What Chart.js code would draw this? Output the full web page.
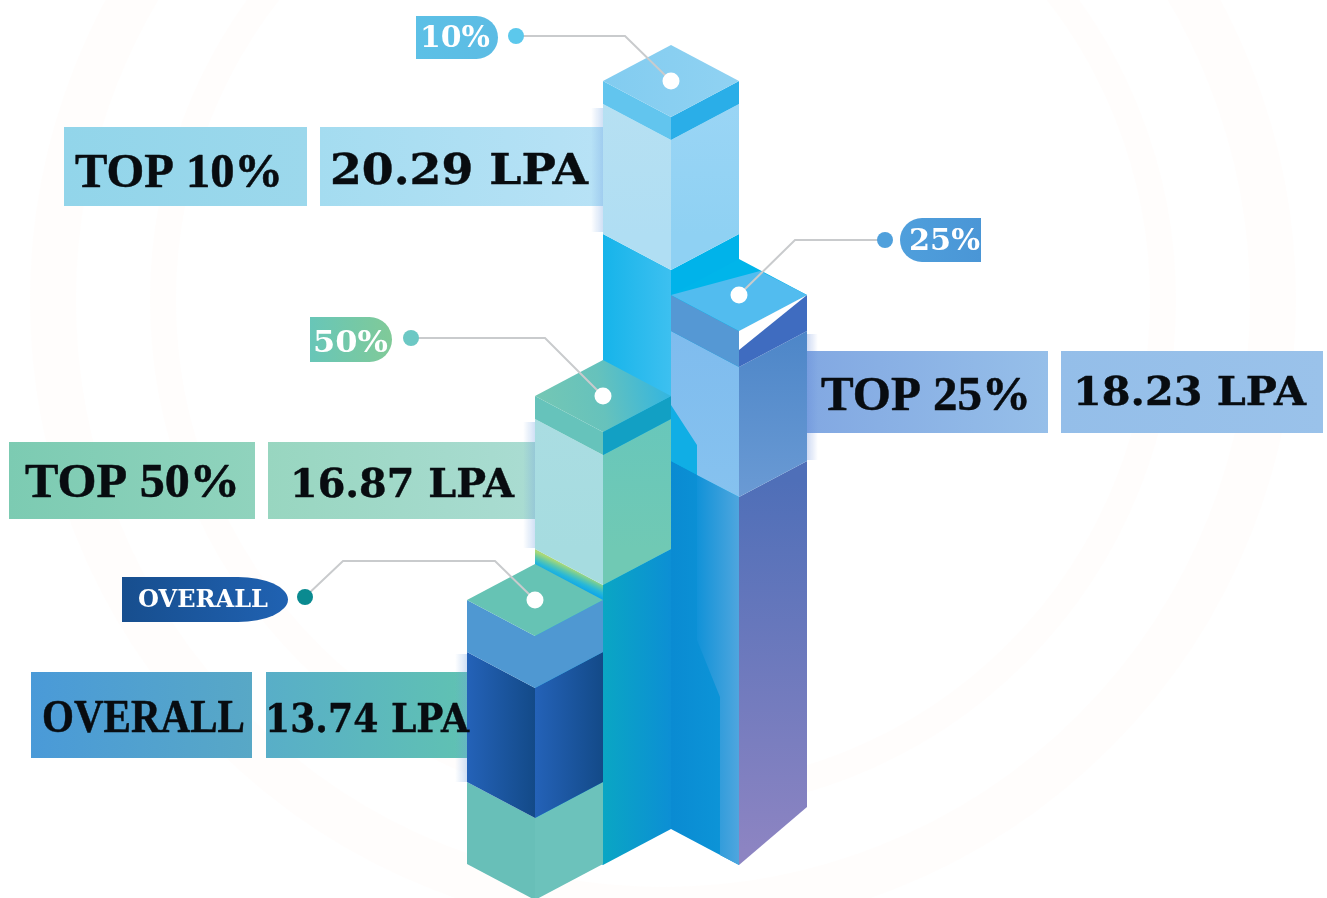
<!DOCTYPE html>
<html>
<head>
<meta charset="utf-8">
<style>
html,body{margin:0;padding:0;background:#fff;overflow:hidden}
canvas{display:block}
</style>
<script src="https://cdn.jsdelivr.net/npm/chart.js@4"></script>
</head>
<body>
<canvas id="c" width="1327" height="898"></canvas>
<script>
// ---- data ----
const categories = ['OVERALL', 'TOP 50%', 'TOP 10%', 'TOP 25%'];
const tagLabels = ['OVERALL', '50%', '10%', '25%'];
const lpaValues = [13.74, 16.87, 20.29, 18.23];
// section heights of every column, in chart units
const groundGap = [3.4, 6.9, 10.6, 6.9];
const lowerSection = [8.2, 28.0, 55.8, 36.8];
const panelSection = [13.0, 13.0, 13.0, 13.0];
const capSection = [5.2, 2.3, 2.3, 3.6];

// ---- layout of the annotation boxes ----
const SERIF = '"Liberation Serif"';
const SLAB = '"DejaVu Serif"';
const layout = [
  { // OVERALL
    title:{box:[31,672,252,758],c:['#4a9ad8','#58a8c6'],x:[42,245],y:732,size:46},
    value:{box:[266,672,470,758],c:['#58aec8','#60c2b2'],x:[265,469],y:732,size:40},
    tag:{box:[122,577,288,622],c:['#174e8e','#2062b2'],x:[138,268],y:607,size:24,round:'ellipse'},
    dot:[305,597,'#0a8a90'],
    path:[[305,597],[343,561],[495,561]],
    fade:[455,654,12,128]
  },
  { // TOP 50%
    title:{box:[9,442,255,519],c:['#7ccbb2','#90d3bd'],x:[25,240],y:497,size:48},
    value:{box:[268,442,536,519],c:['#98d6c0','#aadcd2'],x:[290,514],y:497,size:40},
    tag:{box:[310,317,392,362],c:['#68c6b8','#80ca98'],x:[313,388],y:352,size:30,round:'right'},
    dot:[411,338,'#6cc8c4'],
    path:[[411,338],[545,338]],
    fade:[523,422,12,126]
  },
  { // TOP 10%
    title:{box:[64,127,307,206],c:['#92d5ea','#9cd8ec'],x:[75,283],y:187,size:48},
    value:{box:[320,127,604,206],c:['#a4dcf0','#b8e2f6'],x:[330,588],y:184,size:42},
    tag:{box:[416,16,498,59],c:['#5cc0e6','#5cbce4'],x:[420,490],y:47,size:30,round:'right'},
    dot:[516,36,'#5cc8ec'],
    path:[[516,36],[625,36]],
    fade:[591,108,12,124]
  },
  { // TOP 25%
    title:{box:[806,351,1048,433],c:['#82a8e2','#96bfe9'],x:[821,1031],y:410,size:48},
    value:{box:[1061,351,1323,433],c:['#94bee9','#9ac2ea'],x:[1073,1306],y:405,size:40},
    tag:{box:[900,218,981,262],c:['#4f9fdc','#4a96d6'],x:[909,980],y:250,size:30,round:'left'},
    dot:[885,240,'#4fa0dc'],
    path:[[885,240],[795,240]],
    fade:[806,334,12,126]
  }
];
const drawOrder = [2, 3, 1, 0];
const HALF_DEPTH_RATIO = 36 / 68;

function poly(ctx, pts, fill) {
  ctx.beginPath();
  pts.forEach((p, i) => i ? ctx.lineTo(p[0], p[1]) : ctx.moveTo(p[0], p[1]));
  ctx.closePath();
  ctx.fillStyle = fill;
  ctx.fill();
}
function grad(ctx, x0, y0, x1, y1, stops) {
  const g = ctx.createLinearGradient(x0, y0, x1, y1);
  stops.forEach((s, i) => g.addColorStop(i / (stops.length - 1), s));
  return g;
}
function fitText(ctx, text, font, x0, x1, base, color, bold) {
  ctx.save();
  ctx.font = font;
  ctx.textAlign = 'left';
  ctx.textBaseline = 'alphabetic';
  const w = ctx.measureText(text).width;
  ctx.translate(x0, base);
  ctx.scale((x1 - x0) / w, 1);
  ctx.fillStyle = color;
  ctx.fillText(text, 0, 0);
  if (bold) { ctx.strokeStyle = color; ctx.lineWidth = bold; ctx.lineJoin = 'round'; ctx.strokeText(text, 0, 0); }
  ctx.restore();
}
function tagShape(ctx, t) {
  const [x0, y0, x1, y1] = t.box;
  const r = (y1 - y0) / 2, my = (y0 + y1) / 2;
  ctx.beginPath();
  if (t.round === 'right') {
    ctx.moveTo(x0, y0); ctx.lineTo(x1 - r, y0); ctx.arc(x1 - r, my, r, -Math.PI / 2, Math.PI / 2); ctx.lineTo(x0, y1);
  } else if (t.round === 'left') {
    ctx.moveTo(x1, y0); ctx.lineTo(x0 + r, y0); ctx.arc(x0 + r, my, r, -Math.PI / 2, Math.PI / 2, true); ctx.lineTo(x1, y1);
  } else {
    ctx.moveTo(x0, y0); ctx.lineTo(x1 - 50, y0); ctx.ellipse(x1 - 50, my, 50, r, 0, -Math.PI / 2, Math.PI / 2); ctx.lineTo(x0, y1);
  }
  ctx.closePath();
  ctx.fillStyle = grad(ctx, x0, 0, x1, 0, t.c);
  ctx.fill();
}

const isoPlugin = {
  id: 'isoColumns',
  beforeDatasetsDraw(chart) {
    const ctx = chart.ctx;
    ctx.save();
    // very faint watermark behind the chart
    ctx.strokeStyle = 'rgba(255,240,230,0.12)';
    ctx.lineWidth = 46;
    ctx.beginPath(); ctx.arc(663, 300, 610, 0, Math.PI * 2); ctx.stroke();
    ctx.lineWidth = 26;
    ctx.beginPath(); ctx.arc(663, 300, 500, 0, Math.PI * 2); ctx.stroke();
    // label boxes and the soft shade next to each column
    layout.forEach(l => {
      [l.title, l.value].forEach(b => {
        const [x0, y0, x1, y1] = b.box;
        ctx.fillStyle = grad(ctx, x0, 0, x1, 0, b.c);
        ctx.fillRect(x0, y0, x1 - x0, y1 - y0);
      });
      const [fx, fy, fw, fh] = l.fade;
      const leftSide = fx < 700;
      ctx.fillStyle = leftSide
        ? grad(ctx, fx, 0, fx + fw, 0, ['rgba(110,160,225,0)', 'rgba(110,160,225,0.32)'])
        : grad(ctx, fx, 0, fx + fw, 0, ['rgba(90,130,215,0.32)', 'rgba(90,130,215,0)']);
      ctx.fillRect(fx, fy, fw, fh);
    });
    ctx.restore();
  },
  afterDatasetsDraw(chart) {
    const ctx = chart.ctx;
    const lower = chart.getDatasetMeta(1).data;
    const panel = chart.getDatasetMeta(2).data;
    const cap = chart.getDatasetMeta(3).data;
    ctx.save();
    drawOrder.forEach(i => {
      const cx = cap[i].x, hw = cap[i].width / 2, d = hw * HALF_DEPTH_RATIO;
      const L = cx - hw, R = cx + hw;
      const t = cap[i].y, c = cap[i].base, p = panel[i].base, b = lower[i].base;
      const leftF = (a, z) => [[L, a], [cx, a + d], [cx, z + d], [L, z]];
      const rightF = (a, z) => [[cx, a + d], [R, a], [R, z], [cx, z + d]];
      const topF = [[L, t], [cx, t - d], [R, t], [cx, t + d]];
      const H = (c0, c1, x0 = L, x1 = R) => grad(ctx, x0, 0, x1, 0, [c0, c1]);
      const V = (c0, c1, a, z) => grad(ctx, 0, a, 0, z, [c0, c1]);
      if (i === 2) { // TOP 10%
        poly(ctx, leftF(p, b), H('#16b4ea', '#3dc0f0', L, cx));
        poly(ctx, rightF(p, b), '#00b3ea');
        poly(ctx, leftF(c, p), V('#b6e0f2', '#b0def3', c, p));
        poly(ctx, rightF(c, p), V('#9ad5f5', '#8fd1f3', c, p));
        poly(ctx, leftF(t, c), '#62c5ee');
        poly(ctx, rightF(t, c), '#2aaee8');
        poly(ctx, topF, grad(ctx, L, t, R, t, ['#82ccf0', '#90d2f2']));
      } else if (i === 3) { // TOP 25%
        poly(ctx, leftF(p, b), H('#0a8bd2', '#0d97d9', L, cx));
        poly(ctx, [[cx - 42, p + 14], [cx, p + d], [cx, b + d], [cx - 19, b + 26], [cx - 19, p + 236], [cx - 42, p + 179]],
          H('#1192d8', '#4fa6de', cx - 42, cx));
        poly(ctx, [[cx, p + d], [R, p], [R, b - 22], [cx, b + d]], V('#4f6fb8', '#8c84c2', p + 20, b + 20));
        poly(ctx, leftF(c, p), '#10aee5');
        poly(ctx, [[L, c], [cx, c + d], [cx, p + d], [cx - 42, p + 14], [cx - 42, c + 114], [L, c + 74]],
          V('#7fbcee', '#86c2ef', c, p + d));
        poly(ctx, rightF(c, p), V('#4d86c8', '#6a9ad4', c, p + d));
        poly(ctx, leftF(t, c), '#5598d4');
        poly(ctx, rightF(t, c), '#3f6cc0');
        poly(ctx, topF, '#00b5ea');
        poly(ctx, [[L, t], [cx + 21, t - 24], [R, t], [cx, t + d]], '#52bcef');
        poly(ctx, [[R, t], [cx, t + d], [cx, t + d + 19]], '#ffffff');
      } else if (i === 1) { // TOP 50%
        poly(ctx, leftF(p, b), grad(ctx, cx - 34, p + 18, cx - 40, p + 31, ['#a8d878', '#60c8a8', '#28b8d8', '#10a8e8']));
        poly(ctx, rightF(p, b), H('#0aa6c4', '#0c8fd4', cx, R));
        poly(ctx, leftF(c, p), V('#aadde2', '#a6dce0', c, p));
        poly(ctx, rightF(c, p), V('#68c7bb', '#70c9b4', c, p));
        poly(ctx, leftF(t, c), '#66c3bb');
        poly(ctx, rightF(t, c), '#12a0c4');
        poly(ctx, topF, grad(ctx, L, t, R - 8, t - 24, ['#74c7b4', '#66c2bc', '#36b6de']));
      } else { // OVERALL
        poly(ctx, leftF(p, b), '#68bfb8');
        poly(ctx, rightF(p, b), '#6cc2bb');
        poly(ctx, leftF(c, p), H('#2462b8', '#134a88', L, cx));
        poly(ctx, rightF(c, p), H('#2462b8', '#134a88', cx, R));
        poly(ctx, leftF(t, c), '#4f98d2');
        poly(ctx, rightF(t, c), '#4f98d2');
        poly(ctx, topF, '#66c3b4');
      }
    });
    // callouts
    layout.forEach((l, i) => {
      const cx = cap[i].x, cy = cap[i].y;
      ctx.beginPath();
      l.path.forEach((p, k) => k ? ctx.lineTo(p[0], p[1]) : ctx.moveTo(p[0], p[1]));
      ctx.lineTo(cx, cy);
      ctx.strokeStyle = '#c9cbcd';
      ctx.lineWidth = 2;
      ctx.stroke();
      ctx.beginPath(); ctx.arc(l.dot[0], l.dot[1], 8, 0, Math.PI * 2); ctx.fillStyle = l.dot[2]; ctx.fill();
      ctx.beginPath(); ctx.arc(cx, cy, 8.5, 0, Math.PI * 2); ctx.fillStyle = '#ffffff'; ctx.fill();
      tagShape(ctx, l.tag);
      fitText(ctx, tagLabels[i], `bold ${l.tag.size}px ${SLAB}`, l.tag.x[0], l.tag.x[1], l.tag.y, '#ffffff');
      fitText(ctx, categories[i], `bold ${l.title.size}px ${SERIF}`, l.title.x[0], l.title.x[1], l.title.y, '#080c10', 0.5);
      fitText(ctx, lpaValues[i].toFixed(2) + ' LPA', `bold ${l.value.size}px ${SLAB}`, l.value.x[0], l.value.x[1], l.value.y, '#080c10', 0.4);
    });
    ctx.restore();
  }
};

const hidden = 'rgba(0,0,0,0)';
new Chart(document.getElementById('c'), {
  type: 'bar',
  data: {
    labels: categories,
    datasets: [
      { label: 'Ground', data: groundGap, backgroundColor: hidden },
      { label: 'Lower', data: lowerSection, backgroundColor: hidden },
      { label: 'Panel', data: panelSection, backgroundColor: hidden },
      { label: 'Cap', data: capSection, backgroundColor: hidden }
    ]
  },
  options: {
    responsive: false,
    animation: false,
    layout: { padding: { left: 501, right: 554, top: 0, bottom: 0 } },
    datasets: { bar: { categoryPercentage: 1, barPercentage: 2 } },
    scales: {
      x: { stacked: true, display: false },
      y: { stacked: true, display: false, min: 0, max: 89.8 }
    },
    plugins: { legend: { display: false }, tooltip: { enabled: false } }
  },
  plugins: [isoPlugin]
});
</script>
</body>
</html>
